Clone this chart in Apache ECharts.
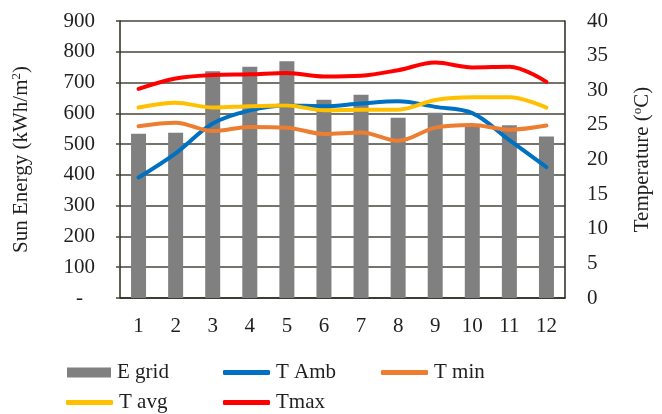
<!DOCTYPE html>
<html>
<head>
<meta charset="utf-8">
<script src="https://cdn.jsdelivr.net/npm/echarts@6/dist/echarts.min.js"></script>
<style>
  html, body { margin: 0; padding: 0; background: #fff; }
  #chart { width: 662px; height: 414px; }
</style>
</head>
<body>
<div id="chart"></div>
<script>
// Months of the year
const months = ['1', '2', '3', '4', '5', '6', '7', '8', '9', '10', '11', '12'];
// Monthly sun energy (kWh/m2)
const eGrid = [534, 537, 737, 751, 769, 644, 660, 586, 602, 561, 561, 525];
// Temperatures (°C)
const tAmb = [17.4, 20.9, 25.2, 27.1, 27.8, 27.7, 28.1, 28.4, 27.6, 26.7, 22.8, 18.9];
const tMin = [24.8, 25.3, 24.1, 24.7, 24.6, 23.7, 23.9, 22.7, 24.6, 25.0, 24.3, 24.9];
const tAvg = [27.5, 28.2, 27.5, 27.7, 27.8, 27.1, 27.2, 27.2, 28.6, 29.0, 29.0, 27.5];
const tMax = [30.2, 31.7, 32.2, 32.3, 32.5, 32.0, 32.1, 32.9, 34.0, 33.3, 33.4, 31.2];

const FONT = '"Liberation Serif", "Times New Roman", serif';
const TEXT = '#1f1f1f';
const GRID = '#46463a';

const chart = echarts.init(document.getElementById('chart'), null, { renderer: 'canvas' });

function lineSeries(name, data, color) {
  return {
    name: name,
    type: 'line',
    yAxisIndex: 1,
    data: data,
    smooth: 0.35,
    symbol: 'none',
    lineStyle: { color: color, width: 4, cap: 'round', join: 'round' },
    itemStyle: { color: color }
  };
}

function legendAt(name, left, top, isBar) {
  return {
    data: [name],
    left: left,
    top: top,
    icon: isBar ? 'rect' : 'roundRect',
    itemWidth: isBar ? 44 : 47,
    itemHeight: isBar ? 10 : 5,
    itemGap: 0,
    padding: 0,
    textStyle: { fontFamily: FONT, fontSize: 21, color: TEXT, padding: [0, 0, 0, 1] }
  };
}

chart.setOption({
  animation: false,
  backgroundColor: '#ffffff',
  grid: { left: 120, right: 97, top: 21, bottom: 116, containLabel: false },
  legend: [
    legendAt('E grid', 67, 362, true),
    legendAt('T Amb', 223, 362, false),
    legendAt('T min', 381, 362, false),
    legendAt('T avg', 66, 392, false),
    legendAt('Tmax', 223, 392, false)
  ],
  xAxis: {
    type: 'category',
    data: months,
    axisLine: { show: true, lineStyle: { color: '#2a2a20', width: 1.5 } },
    axisTick: { show: false },
    axisLabel: { fontFamily: FONT, fontSize: 21, color: TEXT, margin: 18 }
  },
  yAxis: [
    {
      type: 'value',
      min: 0,
      max: 900,
      interval: 100,
      name: 'Sun Energy (kWh/m{sup|2})',
      nameLocation: 'middle',
      nameGap: 88,
      nameRotate: 90,
      nameTextStyle: {
        fontFamily: FONT, fontSize: 21, color: TEXT,
        rich: { sup: { fontFamily: FONT, fontSize: 13, color: TEXT, padding: [0, 0, 9, 0] } }
      },
      axisLine: { show: true, lineStyle: { color: '#2a2a20', width: 1.5 } },
      axisTick: { show: true, length: 4, lineStyle: { color: GRID, width: 1.5 } },
      splitLine: { show: true, lineStyle: { color: GRID, width: 1.5 } },
      axisLabel: {
        fontFamily: FONT, fontSize: 21, color: TEXT, margin: 25,
        formatter: function (v) { return v === 0 ? '{d|-}' : String(v); },
        rich: { d: { fontFamily: FONT, fontSize: 21, color: TEXT, padding: [0, 12, 0, 0] } }
      }
    },
    {
      type: 'value',
      min: 0,
      max: 40,
      interval: 5,
      position: 'right',
      name: 'Temperature ({sup|o}C)',
      nameLocation: 'middle',
      nameGap: 66,
      nameRotate: 90,
      nameTextStyle: {
        fontFamily: FONT, fontSize: 21, color: TEXT,
        rich: { sup: { fontFamily: FONT, fontSize: 13, color: TEXT, padding: [0, 0, 9, 0] } }
      },
      axisLine: { show: true, lineStyle: { color: '#2a2a20', width: 1.5 } },
      axisTick: { show: false },
      splitLine: { show: false },
      axisLabel: { fontFamily: FONT, fontSize: 21, color: TEXT, margin: 22 }
    }
  ],
  series: [
    {
      name: 'E grid',
      type: 'bar',
      yAxisIndex: 0,
      data: eGrid,
      barWidth: 15,
      itemStyle: { color: '#808080' }
    },
    lineSeries('T Amb', tAmb, '#0070C0'),
    lineSeries('T min', tMin, '#ED7D31'),
    lineSeries('T avg', tAvg, '#FFC000'),
    lineSeries('Tmax', tMax, '#FF0000')
  ]
});
</script>
</body>
</html>
